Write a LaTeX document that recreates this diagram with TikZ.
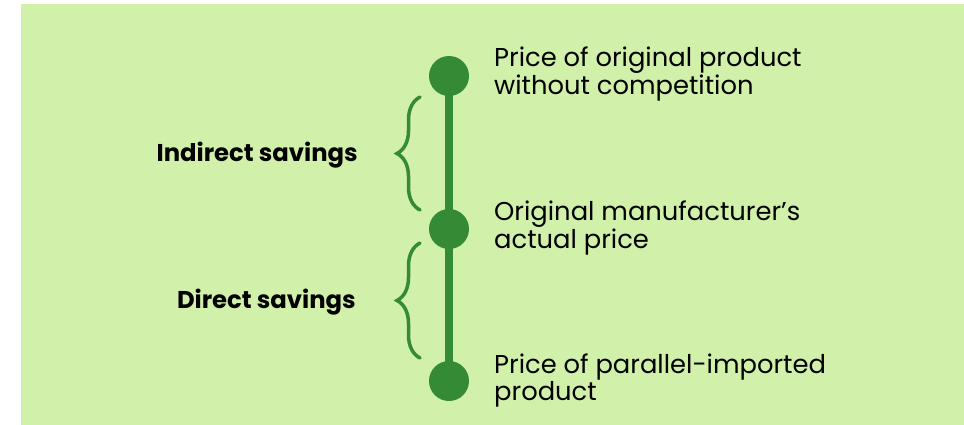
\documentclass[tikz,border=0pt]{standalone}
\usepackage{fontspec}
\setmainfont{Poppins}
\usetikzlibrary{decorations.pathreplacing}
\definecolor{bgreen}{RGB}{209,240,170}
\definecolor{dgreen}{RGB}{53,138,53}
\begin{document}
\begin{tikzpicture}[x=1pt,y=-1pt,
  dot/.style={circle,fill=dgreen,minimum size=40pt,inner sep=0pt},
  spine/.style={draw=dgreen,line width=8pt},
  bracestyle/.style={draw=dgreen,line width=3.5pt,line cap=round,decorate,decoration={brace,amplitude=23pt}},
  pricetext/.style={anchor=base west,align=left,inner sep=0pt,font=\fontsize{25.8}{25}\selectfont},
  savetext/.style={anchor=base east,inner sep=0pt,font=\fontsize{24.3}{25}\selectfont\bfseries}]
\useasboundingbox (0,0) rectangle (964,425);
\fill[bgreen] (21,4) rectangle (964,425);
\node[dot] (top) at (449,76) {};
\node[dot] (mid) at (449,229) {};
\node[dot] (bot) at (449,381) {};
\draw[spine] (top.center) -- (bot.center);
\coordinate (b1a) at (420,97);
\coordinate (b1b) at (420,210);
\coordinate (b2a) at (420,243);
\coordinate (b2b) at (420,358);
\draw[bracestyle] (b1b) -- (b1a);
\draw[bracestyle] (b2b) -- (b2a);
\node[pricetext] (t1) at (494,94.3) {Price of original product\\without competition};
\node[pricetext] (t2) at (494,248.3) {Original manufacturer’s\\actual price};
\node[pricetext] (t3) at (494,400) {Price of parallel-imported\\product};
\node[savetext] (s1) at (358,161.7) {Indirect savings};
\node[savetext] (s2) at (356,308.3) {Direct savings};
\end{tikzpicture}
\end{document}
